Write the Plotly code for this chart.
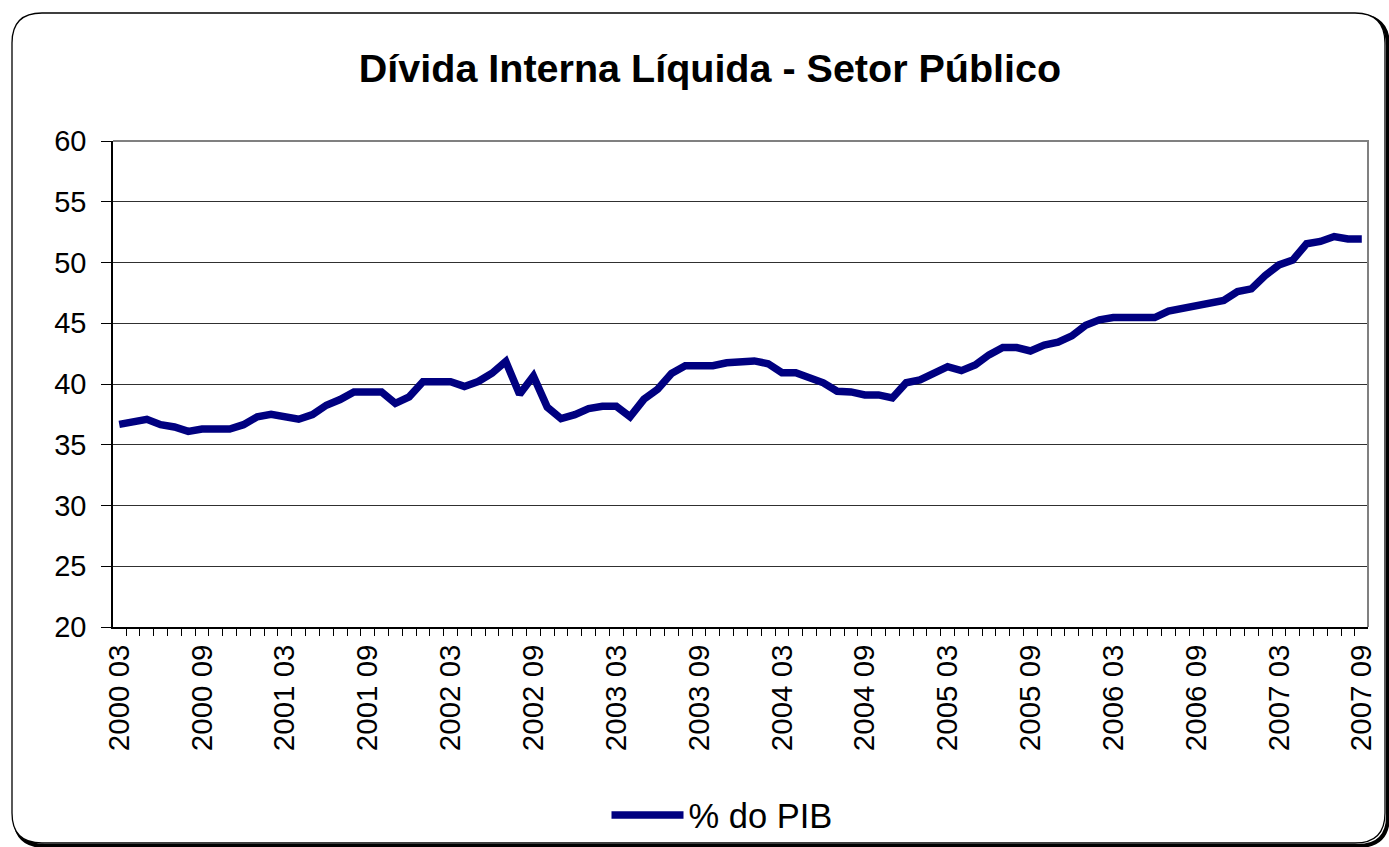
import plotly.graph_objects as go

# ---- data ----
years_months = []
for y in range(2000, 2008):
    for m in range(1, 13):
        if (y == 2000 and m < 3) or (y == 2007 and m > 9):
            continue
        years_months.append(f"{y} {m:02d}")
months = years_months

divida_pib = [
    36.68, 36.88, 37.09, 36.65, 36.46, 36.10, 36.30, 36.30, 36.30, 36.65,
    37.30, 37.50, 37.30, 37.10, 37.48, 38.25, 38.72, 39.35, 39.35, 39.35,
    38.40, 38.94, 40.18, 40.18, 40.18, 39.80, 40.20, 40.88, 41.85, 39.15,
    40.65, 38.10, 37.15, 37.48, 37.97, 38.17, 38.17, 37.30, 38.74, 39.57,
    40.87, 41.50, 41.50, 41.50, 41.75, 41.90, 41.90, 41.67, 40.93, 40.93,
    40.50, 40.10, 39.40, 39.35, 39.10, 39.10, 38.85, 40.10, 40.33, 40.93,
    41.43, 41.10, 41.57, 42.40, 43.00, 43.00, 42.72, 43.20, 43.44, 43.96,
    44.84, 45.28, 45.47, 45.47, 45.47, 45.47, 46.00, 46.24, 46.43, 46.65,
    46.87, 47.60, 47.83, 48.93, 49.80, 50.20, 51.54, 51.73, 52.14, 51.93,
    51.93,
]
tick_labels = [m if i % 6 == 0 else "" for i, m in enumerate(months)]
y_ticks = [20, 25, 30, 35, 40, 45, 50, 55, 60]

# ---- layout geometry ----
W, H = 1389, 847
L, R, T, B = 113, 1368, 141, 627
PW, PH = R - L, B - T
FONT = "Liberation Sans, Arial, sans-serif"


def px(p):
    return (p - L) / PW


def py(p):
    return (B - p) / PH


def rounded(l, t, r, b, rad):
    return (
        f"M {px(l+rad)},{py(t)} L {px(r-rad)},{py(t)} "
        f"Q {px(r)},{py(t)} {px(r)},{py(t+rad)} "
        f"L {px(r)},{py(b-rad)} Q {px(r)},{py(b)} {px(r-rad)},{py(b)} "
        f"L {px(l+rad)},{py(b)} Q {px(l)},{py(b)} {px(l)},{py(b-rad)} "
        f"L {px(l)},{py(t+rad)} Q {px(l)},{py(t)} {px(l+rad)},{py(t)} Z"
    )


fig = go.Figure()
fig.add_trace(go.Scatter(
    x=months, y=divida_pib, mode="lines", name="% do PIB",
    line=dict(color="#000080", width=7.5, shape="linear"),
))

shapes = [
    # shadow
    dict(type="path", xref="paper", yref="paper", layer="below",
         path=rounded(15, 16, 1388, 846, 30),
         line=dict(color="black", width=4), fillcolor="rgba(0,0,0,0)"),
    # frame
    dict(type="path", xref="paper", yref="paper", layer="below",
         path=rounded(12, 13, 1385, 843, 30),
         line=dict(color="black", width=1.3), fillcolor="white"),
    # gray top/right plot border
    dict(type="path", xref="paper", yref="paper", layer="above",
         path="M 0,1 L 1,1 L 1,0",
         line=dict(color="#808080", width=2)),
]

fig.update_layout(
    width=W, height=H,
    margin=dict(l=L, r=W - R, t=T, b=H - B, autoexpand=False),
    paper_bgcolor="white",
    plot_bgcolor="rgba(0,0,0,0)",
    font=dict(family=FONT, color="black", size=28),
    title=dict(
        text="<b>Dívida Interna Líquida - Setor Público</b>",
        x=710 / W, xref="container", xanchor="center",
        y=1 - 68 / H, yref="container", yanchor="middle",
        font=dict(family=FONT, size=39.5, color="black"),
    ),
    showlegend=True,
    legend=dict(
        orientation="h", x=722 / W, xref="container", xanchor="center",
        y=1 - 815 / H, yref="container", yanchor="middle",
        font=dict(family=FONT, size=34.5, color="black"),
        itemwidth=72, bgcolor="rgba(0,0,0,0)",
    ),
    shapes=shapes,
)

fig.update_xaxes(
    type="category", range=[-0.45, len(months) - 0.55],
    tickmode="array", tickvals=months, ticktext=tick_labels,
    tickson="boundaries", ticks="outside", ticklen=7, tickcolor="black",
    tickwidth=1, tickangle=-90, ticklabelstandoff=4,
    tickfont=dict(family=FONT, size=29.5, color="black"),
    showline=True, linecolor="black", linewidth=1.5,
    showgrid=False, zeroline=False, automargin=False,
)
fig.update_yaxes(
    range=[20, 60], tickmode="array", tickvals=y_ticks,
    ticks="outside", ticklen=10, tickcolor="black", tickwidth=1,
    ticklabelstandoff=9,
    tickfont=dict(family=FONT, size=29, color="black"),
    showline=True, linecolor="black", linewidth=1.5,
    showgrid=True, gridcolor="#303030", gridwidth=1, zeroline=False,
    automargin=False,
)

post = (
    "document.documentElement.style.margin='0px';"
    "document.documentElement.style.padding='0px';"
    "document.documentElement.style.overflow='hidden';"
    "document.body.style.margin='0px';"
    "document.body.style.padding='0px';"
    "document.body.style.overflow='hidden';"
)
fig.write_html("out.html", post_script=post,
               config={"displayModeBar": False})
